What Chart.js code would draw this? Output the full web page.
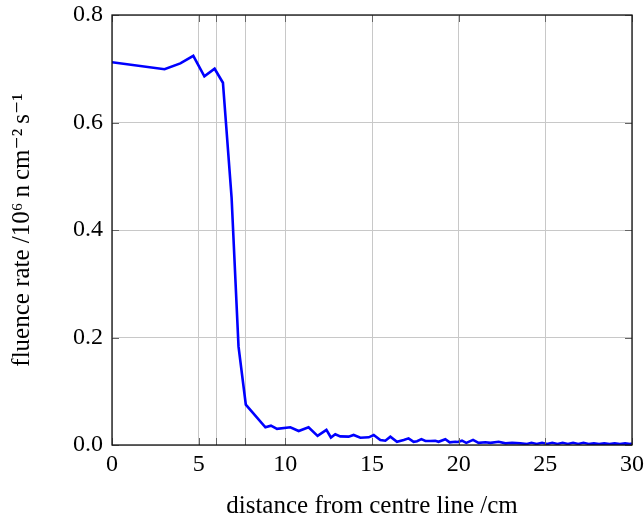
<!DOCTYPE html>
<html>
<head>
<meta charset="utf-8">
<script src="https://cdn.jsdelivr.net/npm/chart.js@4/dist/chart.umd.min.js"></script>
<style>
  html, body { margin: 0; padding: 0; background: #fff; }
  #wrap { width: 644px; height: 522px; }
</style>
</head>
<body>
<div id="wrap"><canvas id="fluenceChart"></canvas></div>
<script>
// Data
const distance = [0, 3.03, 3.94, 4.69, 5.33, 5.92, 6.40, 6.90, 7.30, 7.72,
  8.85, 9.17, 9.52, 10.29, 10.77, 11.34, 11.86, 12.37, 12.63, 12.88,
  13.17, 13.65, 13.94, 14.33, 14.81, 15.10, 15.48, 15.77, 16.06, 16.44,
  16.83, 17.11, 17.40, 17.60, 17.85, 18.08, 18.37, 18.65, 18.84, 19.23,
  19.48, 19.81, 19.95, 20.19, 20.44, 20.83, 21.15, 21.54, 21.83, 22.31,
  22.70, 23.08, 23.56, 23.94, 24.20, 24.50, 24.81, 25.10, 25.40, 25.70,
  26.00, 26.30, 26.60, 26.90, 27.20, 27.50, 27.80, 28.10, 28.40, 28.70,
  29.00, 29.30, 29.60, 29.90, 30.00];
const fluence = [0.712, 0.699, 0.710, 0.724, 0.686, 0.700, 0.674, 0.460, 0.183, 0.075,
  0.033, 0.036, 0.030, 0.033, 0.026, 0.033, 0.017, 0.028, 0.014, 0.020,
  0.016, 0.0155, 0.0186, 0.0136, 0.0143, 0.0186, 0.0093, 0.008, 0.0155, 0.006,
  0.0093, 0.0124, 0.006, 0.007, 0.011, 0.0074, 0.0074, 0.008, 0.006, 0.0106,
  0.005, 0.006, 0.0055, 0.008, 0.004, 0.0095, 0.004, 0.005, 0.004, 0.006,
  0.003, 0.004, 0.003, 0.002, 0.004, 0.002, 0.004, 0.002, 0.004, 0.002,
  0.004, 0.002, 0.004, 0.002, 0.004, 0.002, 0.003, 0.002, 0.003, 0.002,
  0.003, 0.002, 0.003, 0.002, 0.003];

// grid / tick positions
const xTicks = [0, 5, 6, 7.7, 10, 15, 20, 25, 30];
const xLabelled = [0, 5, 10, 15, 20, 25, 30];
const yTicks = [0, 0.2, 0.4, 0.6, 0.8];

const serif = "'Liberation Serif', 'DejaVu Serif', serif";

// pgfplots style: inward tick marks on all four sides + frame
const frameTicks = {
  id: 'frameTicks',
  afterDatasetsDraw(chart) {
    const { ctx, chartArea: a, scales } = chart;
    const len = 7;
    ctx.save();
    ctx.strokeStyle = '#666';
    ctx.lineWidth = 1;
    ctx.beginPath();
    xTicks.forEach(v => {
      const px = Math.round(scales.x.getPixelForValue(v)) + 0.5;
      ctx.moveTo(px, a.bottom); ctx.lineTo(px, a.bottom - len);
      ctx.moveTo(px, a.top); ctx.lineTo(px, a.top + len);
    });
    yTicks.forEach(v => {
      const py = Math.round(scales.y.getPixelForValue(v)) + 0.5;
      ctx.moveTo(a.left, py); ctx.lineTo(a.left + len, py);
      ctx.moveTo(a.right, py); ctx.lineTo(a.right - len, py);
    });
    ctx.stroke();
    ctx.strokeStyle = '#111';
    ctx.lineWidth = 1.3;
    ctx.strokeRect(a.left, a.top, a.right - a.left, a.bottom - a.top);
    ctx.restore();
  }
};

new Chart(document.getElementById('fluenceChart'), {
  type: 'line',
  data: {
    datasets: [{
      data: distance.map((d, i) => ({ x: d, y: fluence[i] })),
      borderColor: '#0000ff',
      borderWidth: 2.6,
      pointRadius: 0,
      tension: 0,
      fill: false
    }]
  },
  options: {
    responsive: true,
    maintainAspectRatio: false,
    animation: false,
    layout: { padding: { top: 15, right: 12, bottom: 0, left: 0 } },
    plugins: {
      legend: { display: false },
      tooltip: { enabled: false }
    },
    scales: {
      x: {
        type: 'linear',
        min: 0,
        max: 30,
        afterBuildTicks: s => { s.ticks = xTicks.map(v => ({ value: v })); },
        afterFit: s => { s.height = 77; s.paddingLeft = 0; s.paddingRight = 0; },
        ticks: {
          autoSkip: false,
          maxRotation: 0,
          padding: 5,
          color: '#000',
          font: { family: serif, size: 24 },
          callback: v => xLabelled.includes(v) ? String(v) : ''
        },
        grid: { color: '#c8c8c8', lineWidth: 1, drawTicks: false },
        border: { display: false },
        title: {
          display: true,
          text: 'distance from centre line /cm',
          color: '#000',
          font: { family: serif, size: 25 },
          padding: { top: 0, bottom: 1 }
        }
      },
      y: {
        min: 0,
        max: 0.8,
        afterBuildTicks: s => { s.ticks = yTicks.map(v => ({ value: v })); },
        afterFit: s => { s.width = 112; s.paddingTop = 0; s.paddingBottom = 0; },
        ticks: {
          padding: 9,
          color: '#000',
          font: { family: serif, size: 24 },
          callback: v => v.toFixed(1)
        },
        grid: { color: '#c8c8c8', lineWidth: 1, drawTicks: false },
        border: { display: false },
        title: {
          display: true,
          text: 'fluence rate /10\u2076\u2009n\u2009cm\u207B\u00B2\u2009s\u207B\u00B9',
          color: '#000',
          font: { family: serif, size: 25 },
          padding: { top: 7, bottom: 0 }
        }
      }
    }
  },
  plugins: [frameTicks]
});
</script>
</body>
</html>
